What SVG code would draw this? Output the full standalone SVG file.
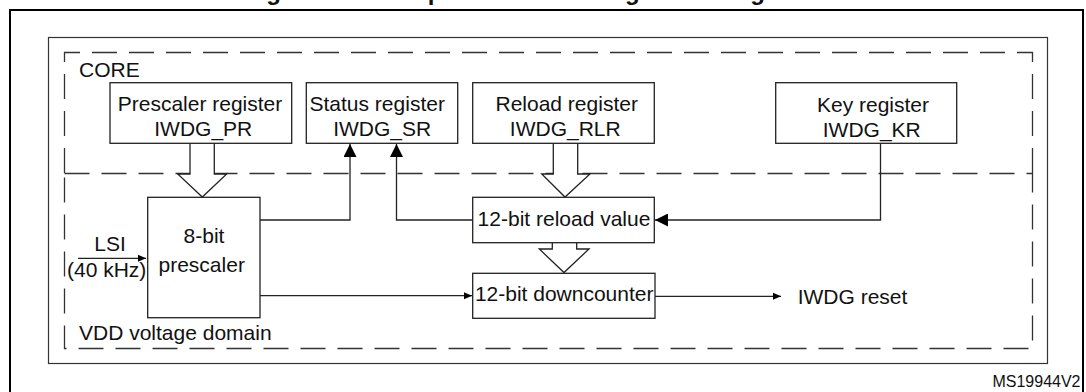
<svg xmlns="http://www.w3.org/2000/svg" width="1086" height="392" viewBox="0 0 1086 392">
<style>
text{font-family:"Liberation Sans",Arial,sans-serif;fill:#111;font-size:21px}
.box{fill:#fff;stroke:#222;stroke-width:1.3}
.dash{fill:none;stroke:#333;stroke-width:1.3;stroke-dasharray:25 12}
.ln{fill:none;stroke:#222;stroke-width:1.3}
.hol{fill:#fff;stroke:#222;stroke-width:1.3;stroke-linejoin:miter}
.c{text-anchor:middle}
</style>
<defs>
<marker id="big" markerWidth="13" markerHeight="13" refX="13" refY="6.5" orient="auto" markerUnits="userSpaceOnUse">
<path d="M0,0 L13,6.5 L0,13 Z" fill="#000"/>
</marker>
<marker id="sm" markerWidth="8" markerHeight="8" refX="8" refY="4" orient="auto" markerUnits="userSpaceOnUse">
<path d="M0,0.5 L8,4 L0,7.5 Z" fill="#000"/>
</marker>
</defs>
<text x="527" y="0" class="c" style="font-weight:bold;font-size:24px">Figure 187. Independent watchdog block diagram</text>
<g id="frames">
<rect x="10" y="10" width="1073" height="400" fill="none" stroke="#000" stroke-width="2"/>
<rect x="48.5" y="37.5" width="999" height="326" fill="none" stroke="#333" stroke-width="1.2"/>
</g>
<g id="core">
<path class="dash" d="M64.5,173 V52.5 H1032.5 V173"/>
<text x="79" y="77">CORE</text>
</g>
<g id="vdd">
<path class="dash" d="M64.5,173.5 H1032.5 V348.5 H64.5 Z"/>
<text x="79" y="340">VDD voltage domain</text>
</g>
<g id="connectors">
<path class="hol" d="M190,143.5 V174 H177.7 L202.3,197 L226.7,174 H214.3 V143.5"/>
<path class="hol" d="M553.3,143.5 V174 H541.7 L565,197 L590,174 H577.7 V143.5"/>
<path class="hol" d="M552.3,242.7 V249 H539.3 L564,272.5 L589,249 H576.7 V242.7"/>
<path class="ln" d="M260,220 H350 V144" marker-end="url(#big)"/>
<path class="ln" d="M472.7,220 H396.5 V144" marker-end="url(#big)"/>
<path class="ln" d="M880.5,143.5 V220 H655" marker-end="url(#big)"/>
<path class="ln" d="M78,258.3 H146" marker-end="url(#sm)"/>
<path class="ln" d="M258.3,295.7 H472" marker-end="url(#sm)"/>
<path class="ln" d="M655,296.3 H781" marker-end="url(#sm)"/>
</g>
<g id="prescaler-register">
<rect class="box" x="110" y="82.7" width="181.7" height="60.6"/>
<text x="200" y="111" class="c">Prescaler register</text>
<text x="203.3" y="136" class="c">IWDG_PR</text>
</g>
<g id="status-register">
<rect class="box" x="306.3" y="82.7" width="151.4" height="60.6"/>
<text x="309.5" y="111">Status register</text>
<text x="382.2" y="136" class="c">IWDG_SR</text>
</g>
<g id="reload-register">
<rect class="box" x="472.7" y="82.7" width="181.6" height="60.6"/>
<text x="566.7" y="111" class="c">Reload register</text>
<text x="565.3" y="136" class="c">IWDG_RLR</text>
</g>
<g id="key-register">
<rect class="box" x="775.7" y="82.7" width="181" height="60.6"/>
<text x="873" y="111.5" class="c">Key register</text>
<text x="871.8" y="136.5" class="c">IWDG_KR</text>
</g>
<g id="prescaler">
<rect class="box" x="147.7" y="197.3" width="112.3" height="120.4"/>
<text x="204" y="243.3" class="c">8-bit</text>
<text x="201.7" y="271.7" class="c">prescaler</text>
</g>
<g id="reload-value">
<rect class="box" x="472.7" y="197.3" width="181.6" height="45.4"/>
<text x="564" y="225.7" class="c">12-bit reload value</text>
</g>
<g id="downcounter">
<rect class="box" x="472.7" y="273.3" width="182.3" height="45"/>
<text x="564.2" y="300.7" class="c">12-bit downcounter</text>
</g>
<g id="lsi">
<text x="110" y="251" class="c">LSI</text>
<text x="106.7" y="276.7" class="c">(40 kHz)</text>
</g>
<g id="iwdg-reset">
<text x="797.7" y="304">IWDG reset</text>
</g>
<text x="1080.5" y="387.3" style="font-size:16px;text-anchor:end">MS19944V2</text>
</svg>
